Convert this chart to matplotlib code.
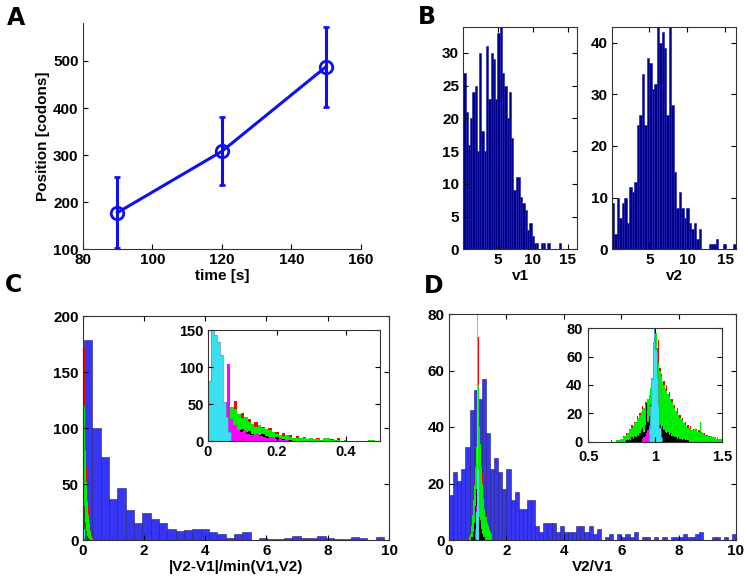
import matplotlib
matplotlib.use('Agg')
import matplotlib.pyplot as plt
import numpy as np

plt.rcParams['font.family'] = ['Liberation Sans', 'DejaVu Sans']
plt.rcParams['font.weight'] = 'bold'
plt.rcParams['font.size'] = 11

# ---- panel A: position vs time
time_s = [90, 120, 150]
pos_codons = [178, 308, 488]
pos_err = [75, 72, 85]

# ---- panel B: speed histograms (50 bins each)
v1_start, v1_width = 0.05, 0.325
v1_counts = [27, 21, 16, 20, 24, 25, 15, 30, 18, 15, 31, 23, 30, 29, 23, 33, 34, 27, 25, 20,
             24, 17, 9, 11, 11, 8, 7, 6, 3, 4, 2, 1, 1, 0, 1, 1, 0, 1, 0, 0,
             0, 0, 1, 0, 0, 0, 0, 0, 0, 0]
v2_start, v2_width = 0.07, 0.327
v2_counts = [9, 3, 10, 6, 9, 10, 5, 12, 11, 13, 24, 26, 34, 24, 37, 36, 31, 32, 43, 40,
             42, 39, 26, 43, 28, 15, 8, 11, 8, 6, 8, 5, 4, 5, 2, 4, 0, 0, 0, 1,
             1, 1, 2, 0, 0, 1, 0, 0, 0, 1]

# ---- panel C: |V2-V1|/min(V1,V2)
c_start, c_width = 0.04, 0.272
c_blue = [179, 100, 74, 37, 46, 27, 15, 24, 19, 15, 10, 8, 9, 10, 10, 7, 5, 2, 5, 7,
          0, 2, 1, 1, 2, 4, 2, 2, 4, 2, 1, 1, 3, 2, 0, 3]
# coarse colored histograms shown in the main panel
cm_start, cm_width = 0.0, 0.035
c_red_main = [160, 172, 100, 65, 45, 30, 18, 10, 5, 2]
c_green_main = [178, 120, 80, 52, 35, 22, 14, 8, 4, 1]
c_black_main = [200, 30, 15, 8, 4, 2, 1]
c_magenta_main = [150, 8, 2]
c_cyan_main = [60, 10]
# fine colored histograms shown in the inset
c_cyan_start, c_cyan_width = 0.0, 0.0085
c_cyan = [82, 185, 144, 134, 116, 53, 33, 13]
c_mag_start, c_mag_width = 0.045, 0.0095
c_magenta = [53, 105, 30, 22, 15, 13, 15, 10, 9, 8, 10, 7, 6, 5, 6, 4, 3, 4, 2, 2]
c_fine_start, c_fine_width = 0.065, 0.01
c_black = [18, 22, 15, 17, 12, 14, 10, 9, 8, 10, 7, 6, 5, 6, 4, 3, 2, 2, 1, 1, 1]
c_green = [46, 43, 37, 31, 33, 26, 24, 19, 22, 18, 16, 15, 13, 10, 9, 7, 8, 6, 5, 4,
           5, 4, 3, 4, 3, 3, 2, 5, 4, 2, 2, 2, 1, 2, 1, 1, 1, 1, 0, 1,
           2, 2, 1, 1]
c_red = [40, 54, 35, 38, 30, 30, 22, 26, 18, 20, 14, 18, 12, 13, 8, 11, 6, 9, 4, 7,
         3, 6, 2, 5, 2, 4, 1, 3, 2, 3, 1, 5, 1, 2, 1, 1, 0, 1, 1, 1,
         1, 1, 0, 1]

# ---- panel D: V2/V1
d_start, d_width = 0.0, 0.143
d_blue = [16, 24, 21, 25, 33, 46, 53, 50, 57, 38, 25, 29, 24, 18, 25, 14, 17, 11, 11, 14,
          14, 5, 3, 6, 6, 6, 3, 5, 3, 3, 3, 5, 5, 3, 5, 2, 4, 0, 1, 2,
          0, 2, 1, 2, 1, 3, 0, 1, 1, 0, 1, 0, 1, 0, 1, 1, 1, 2, 1, 1,
          2, 3, 0, 0, 1, 1, 0, 1, 0, 2]
d_fine_start, d_fine_width = 0.66, 0.01
d_red = [0, 1, 0, 0, 0, 1,
         0, 1, 2, 2, 4, 3, 6, 5,
         9, 8, 12, 10, 14, 13, 18, 15, 20, 19,
         25, 22, 28, 25, 26, 30, 35, 40, 50, 60,
         62, 66, 72, 52, 48, 40, 43, 36, 40, 30,
         35, 28, 30, 24, 26, 20, 24, 17, 19, 14,
         17, 12, 14, 10, 12, 8, 11, 7, 9, 6,
         9, 5, 8, 6, 7, 4, 6, 4, 5, 3,
         4, 3, 3, 2, 3, 1, 2, 1, 1, 1]
d_green = [0, 0, 0, 0, 0, 1,
           1, 1, 2, 2, 3, 4, 5, 6,
           8, 9, 10, 11, 13, 14, 16, 17, 19, 21,
           23, 24, 26, 28, 30, 33, 38, 44, 55, 65,
           77, 62, 55, 50, 46, 42, 40, 38, 36, 34,
           32, 30, 28, 26, 24, 22, 20, 19, 17, 16,
           15, 13, 12, 11, 10, 10, 9, 8, 8, 9,
           8, 7, 7, 14, 6, 6, 5, 5, 4, 4,
           3, 4, 3, 3, 3, 2, 3, 2, 2, 2]
d_black_start = 0.78
d_black = [1, 1,
           2, 1, 3, 2, 4, 3, 5, 4, 6, 8,
           10, 7, 12, 27, 14, 18, 26, 35, 22, 30,
           28, 18, 15, 12, 10, 11, 8, 7, 6, 7,
           5, 6, 4, 4, 3, 3, 2, 3, 2, 2,
           1, 2, 1, 1, 1]
d_mag_start = 0.90
d_magenta = [2, 3, 4, 6, 8, 12, 15, 18, 20, 22, 18, 14, 8, 4, 2]
d_cyan_start = 0.95
d_cyan = [10, 25, 45, 70, 80, 65, 45, 25, 10, 3]

W, H = 748, 585
BLUE_LINE = '#1010ee'
NAVY = '#00008f'
BLUE_BAR = '#3636f2'
RED, GREEN, MAG, CYAN = '#ff0000', '#00ee00', '#ff00ff', '#38e0f0'


def rect(l, r, t, b):
    return [l / W, 1 - b / H, (r - l) / W, (b - t) / H]


def style(ax, box=True, size=11):
    ax.tick_params(direction='in', length=3.5, width=0.8, labelsize=size, pad=3,
                   top=box, right=box)
    for s in ax.spines.values():
        s.set_linewidth(0.8)
        s.set_color('#333333')
    if not box:
        ax.spines['top'].set_visible(False)
        ax.spines['right'].set_visible(False)


def edges(start, width, counts):
    return start + width * np.arange(len(counts) + 1)


def fill_hist(ax, start, width, counts, color, alpha=1.0, ec=None):
    ax.stairs(counts, edges(start, width, counts), fill=True, color=color, alpha=alpha,
              lw=0)
    if ec is not None:
        ax.stairs(counts, edges(start, width, counts), color=ec, lw=0.5)


fig = plt.figure(figsize=(W / 100, H / 100), dpi=100)

# ---- A
axA = fig.add_axes(rect(82.7, 361, 23.3, 249.3))
axA.errorbar(time_s, pos_codons, yerr=pos_err, color=BLUE_LINE, lw=2.2, elinewidth=2.2,
             capsize=2.5, capthick=2.2, marker='o', ms=9, mfc='none', mec=BLUE_LINE, mew=2)
axA.set_xlim(80, 160)
axA.set_ylim(100, 580)
axA.set_xticks([80, 100, 120, 140, 160])
axA.set_yticks([100, 200, 300, 400, 500])
axA.set_xlabel('time [s]', fontsize=11, fontweight='bold', labelpad=1)
axA.set_ylabel('Position [codons]', fontsize=11, fontweight='bold', labelpad=2)
style(axA, box=False)

# ---- B
axB1 = fig.add_axes(rect(463.3, 577, 26.7, 249.3))
axB1.bar(edges(v1_start, v1_width, v1_counts)[:-1], v1_counts, width=v1_width, align='edge',
         color=NAVY, edgecolor='#1a1aa8', lw=0.4)
axB1.set_xlim(0.05, 16.3)
axB1.set_ylim(0, 34)
axB1.set_xticks([5, 10, 15])
axB1.set_yticks([0, 5, 10, 15, 20, 25, 30])
axB1.set_xlabel('v1', fontsize=11, fontweight='bold', labelpad=1)
style(axB1)

axB2 = fig.add_axes(rect(612, 736, 27, 249.3))
axB2.bar(edges(v2_start, v2_width, v2_counts)[:-1], v2_counts, width=v2_width, align='edge',
         color=NAVY, edgecolor='#1a1aa8', lw=0.4)
axB2.set_xlim(0.07, 16.45)
axB2.set_ylim(0, 43)
axB2.set_xticks([5, 10, 15])
axB2.set_yticks([0, 10, 20, 30, 40])
axB2.set_xlabel('v2', fontsize=11, fontweight='bold', labelpad=1)
style(axB2)

# ---- C main
axC = fig.add_axes(rect(82.7, 389, 316, 540))
axC.bar(edges(c_start, c_width, c_blue)[:-1], c_blue, width=c_width, align='edge',
        color=BLUE_BAR, edgecolor='#202070', lw=0.4)
fill_hist(axC, cm_start, cm_width, c_red_main, RED)
fill_hist(axC, cm_start, cm_width, c_green_main, GREEN)
fill_hist(axC, cm_start, cm_width, c_black_main, 'black', alpha=0.55)
fill_hist(axC, cm_start, cm_width / 3, c_magenta_main, MAG)
fill_hist(axC, cm_start, cm_width, c_cyan_main, CYAN)
axC.set_xlim(0, 10)
axC.set_ylim(0, 200)
axC.set_xticks([0, 2, 4, 6, 8, 10])
axC.set_yticks([0, 50, 100, 150, 200])
axC.set_xlabel('|V2-V1|/min(V1,V2)', fontsize=11, fontweight='bold', labelpad=1)
style(axC)

# ---- C inset
axCi = fig.add_axes(rect(208, 380, 330.3, 441.3))
fill_hist(axCi, c_fine_start, c_fine_width, c_red, RED)
fill_hist(axCi, c_fine_start, c_fine_width, c_green, GREEN)
fill_hist(axCi, c_fine_start, c_fine_width, c_black, 'black')
fill_hist(axCi, c_mag_start, c_mag_width, c_magenta, MAG)
fill_hist(axCi, c_cyan_start, c_cyan_width, c_cyan, CYAN, ec='#4a90c8')
axCi.set_xlim(0, 0.5)
axCi.set_ylim(0, 150)
axCi.set_xticks([0, 0.2, 0.4])
axCi.set_xticklabels(['0', '0.2', '0.4'])
axCi.set_yticks([0, 50, 100, 150])
style(axCi, size=10.5)

# ---- D main
axD = fig.add_axes(rect(449, 736, 314, 540))
axD.bar(edges(d_start, d_width, d_blue)[:-1], d_blue, width=d_width, align='edge',
        color=BLUE_BAR, edgecolor='#202070', lw=0.4)
fill_hist(axD, d_fine_start, d_fine_width, d_red, RED)
fill_hist(axD, d_fine_start, d_fine_width, d_green, GREEN)
fill_hist(axD, d_black_start, d_fine_width, d_black, 'black')
fill_hist(axD, d_mag_start, d_fine_width, d_magenta, MAG)
fill_hist(axD, d_cyan_start, d_fine_width, d_cyan, CYAN)
axD.set_xlim(0, 10)
axD.set_ylim(0, 80)
axD.set_xticks([0, 2, 4, 6, 8, 10])
axD.set_yticks([0, 20, 40, 60, 80])
axD.set_xlabel('V2/V1', fontsize=11, fontweight='bold', labelpad=1)
style(axD)

# ---- D inset
axDi = fig.add_axes(rect(588.3, 722.3, 328.3, 441.7))
fill_hist(axDi, d_fine_start, d_fine_width, d_red, RED)
fill_hist(axDi, d_fine_start, d_fine_width, d_green, GREEN)
fill_hist(axDi, d_black_start, d_fine_width, d_black, 'black')
fill_hist(axDi, d_mag_start, d_fine_width, d_magenta, MAG)
fill_hist(axDi, d_cyan_start, d_fine_width, d_cyan, CYAN, ec='#4a90c8')
axDi.set_xlim(0.5, 1.5)
axDi.set_ylim(0, 80)
axDi.set_xticks([0.5, 1, 1.5])
axDi.set_xticklabels(['0.5', '1', '1.5'])
axDi.set_yticks([0, 20, 40, 60, 80])
style(axDi, size=10.5)
axDi.tick_params(axis='x', pad=6)
axDi.tick_params(axis='y', pad=4)

# panel letters
for letter, x, y in [('A', 16, 18), ('B', 427, 17), ('C', 13, 285), ('D', 434, 286)]:
    fig.text(x / W, 1 - y / H, letter, fontsize=17, fontweight='bold',
             family='DejaVu Sans', ha='center', va='center')

fig.savefig('out.png', dpi=100)
